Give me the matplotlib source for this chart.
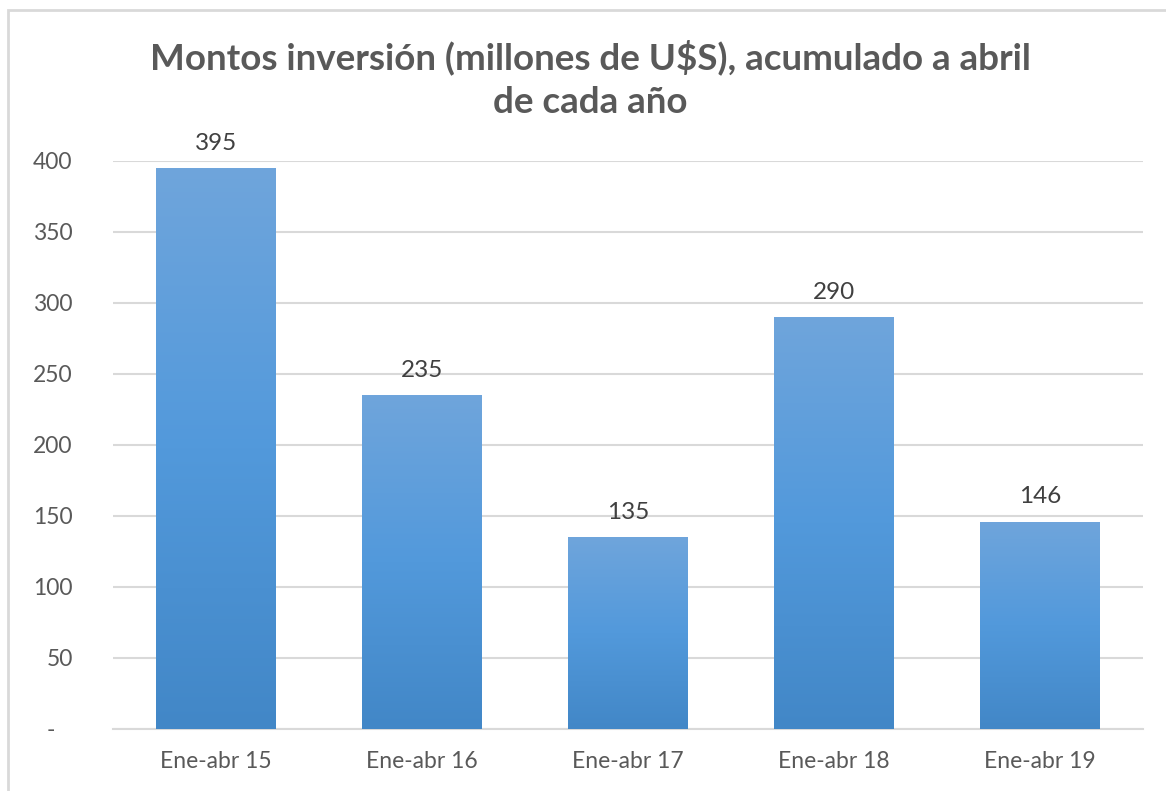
import numpy as np
import matplotlib.pyplot as plt
from matplotlib.colors import LinearSegmentedColormap
from matplotlib.patches import Rectangle

# datos del gráfico
periodos = ['Ene-abr 15', 'Ene-abr 16', 'Ene-abr 17', 'Ene-abr 18', 'Ene-abr 19']
montos = [395, 235, 135, 290, 146]
yticks = [0, 50, 100, 150, 200, 250, 300, 350, 400]
ytick_labels = ['-   ', '50', '100', '150', '200', '250', '300', '350', '400']

plt.rcParams['font.family'] = ['Lato', 'DejaVu Sans']

fig = plt.figure(figsize=(11.66, 7.91), dpi=100)
ax = fig.add_axes([0.0969, 0.0784, 0.8834, 0.7181])

# borde del gráfico (estilo Excel)
fig.patches.append(Rectangle((8 / 1166, -0.01), 1.02, 1 - 10 / 791 + 0.01,
                             transform=fig.transFigure, fill=False,
                             edgecolor='#d9d9d9', linewidth=2))

x = np.arange(len(periodos))
bars = ax.bar(x, montos, width=0.58, color='#5499db', zorder=2)

# degradado vertical dentro de cada barra
grad = LinearSegmentedColormap.from_list('g', ['#4287c7', '#5299db', '#6fa5dc'])
for b in bars:
    x0, y0 = b.get_x(), b.get_y()
    w, h = b.get_width(), b.get_height()
    img = ax.imshow(np.linspace(0, 1, 256).reshape(-1, 1), cmap=grad, origin='lower',
                    extent=[x0, x0 + w, y0, y0 + h], aspect='auto', zorder=3)
    img.set_clip_path(b)
    ax.text(x0 + w / 2, h + 10, str(int(h)), ha='center', va='bottom',
            fontsize=17.5, color='#404040', zorder=4)

ax.set_xlim(-0.5, len(periodos) - 0.5)
ax.set_ylim(0, 400)
ax.set_yticks(yticks)
ax.set_yticklabels(ytick_labels)
ax.set_xticks(x)
ax.set_xticklabels(periodos)
ax.tick_params(axis='both', length=0, labelsize=16.5, colors='#595959')
ax.tick_params(axis='y', pad=29)
ax.tick_params(axis='x', pad=16)
for lab in ax.get_yticklabels():
    lab.set_horizontalalignment('right')

ax.grid(axis='y', color='#d9d9d9', linewidth=1.5, zorder=0)
ax.set_axisbelow(True)
for s in ['top', 'right', 'left']:
    ax.spines[s].set_visible(False)
ax.spines['bottom'].set_color('#d9d9d9')
ax.spines['bottom'].set_linewidth(1.5)

fig.text(0.506, 0.900, 'Montos inversión (millones de U$S), acumulado a abril\nde cada año',
         ha='center', va='center', fontsize=26.5, fontweight='bold', color='#595959',
         linespacing=1.42)

fig.savefig('out.png', dpi=100, facecolor='white')
